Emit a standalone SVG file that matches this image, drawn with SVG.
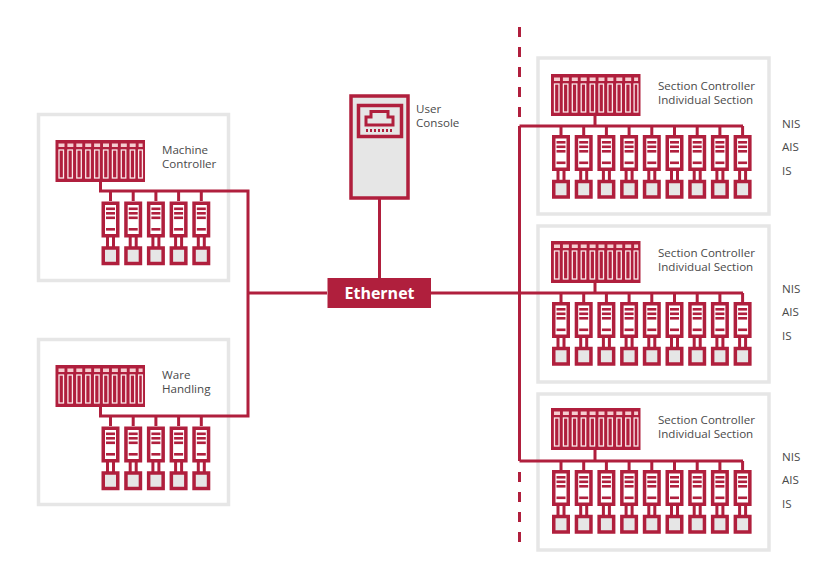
<svg xmlns="http://www.w3.org/2000/svg" width="840" height="570" viewBox="0 0 840 570">
<style>
.panel{fill:#fff;stroke:#e6e6e6;stroke-width:3.5}
.wire{fill:none;stroke:#b01f3d;stroke-width:3}
.thin{fill:none;stroke:#b01f3d;stroke-width:3}
.red{fill:#b01f3d}
.gray{fill:#e6e6e6;stroke:#b01f3d;stroke-width:3.5}
.wh{fill:#fff;stroke:#b01f3d;stroke-width:3.500}
.slot{fill:#b01f3d;stroke:#fbe9ea;stroke-width:1.3}
.dash{fill:#f6cdd0}
text{font-family:"Open Sans","Noto Sans",sans-serif;font-size:11.6px;fill:#4a4a4a}
.eth{font-family:"Open Sans","Noto Sans",sans-serif;font-size:16px;font-weight:700;fill:#fff;text-anchor:middle}
</style>
<defs>
<g id="ctrl">
<rect class="red" width="89.5" height="42"/>
<g class="dash">
<rect x="3" y="3.5" width="6" height="3.5"/><rect x="11.9" y="3.5" width="6" height="3.5"/><rect x="20.8" y="3.5" width="6" height="3.5"/><rect x="29.7" y="3.5" width="6" height="3.5"/><rect x="38.6" y="3.5" width="6" height="3.5"/><rect x="47.5" y="3.5" width="6" height="3.5"/><rect x="56.4" y="3.5" width="6" height="3.5"/><rect x="65.3" y="3.5" width="6" height="3.5"/><rect x="74.2" y="3.5" width="6" height="3.5"/><rect x="83.1" y="3.5" width="4" height="3.5"/>
</g>
<rect class="slot" x="3.5" y="10" width="4.5" height="28"/><rect class="slot" x="12.4" y="10" width="4.5" height="28"/><rect class="slot" x="21.3" y="10" width="4.5" height="28"/><rect class="slot" x="30.2" y="10" width="4.5" height="28"/><rect class="slot" x="39.1" y="10" width="4.5" height="28"/><rect class="slot" x="48" y="10" width="4.5" height="28"/><rect class="slot" x="56.9" y="10" width="4.5" height="28"/><rect class="slot" x="65.8" y="10" width="4.5" height="28"/><rect class="slot" x="74.7" y="10" width="4.5" height="28"/><rect class="slot" x="83.1" y="10" width="3.8" height="28"/>
</g>
<g id="drive">
<path class="wire" d="M6 35V47M12 35V47"/>
<rect class="wh" x="1.750" y="1.750" width="14.500" height="32.500"/>
<rect class="red" x="4.5" y="6" width="9" height="2.6"/><rect class="red" x="4.5" y="10.500" width="9" height="2.6"/><rect class="red" x="4.5" y="15" width="9" height="2.6"/><rect class="red" x="4.5" y="26.500" width="9" height="2.6"/>
<rect class="gray" x="1.750" y="46.500" width="14.500" height="15.500"/>
</g>
<g id="bank5"><use href="#drive" x="0"/><use href="#drive" x="22.7"/><use href="#drive" x="45.4"/><use href="#drive" x="68.1"/><use href="#drive" x="90.8"/></g>
<g id="bank9"><use href="#drive" x="0"/><use href="#drive" x="22.7"/><use href="#drive" x="45.4"/><use href="#drive" x="68.1"/><use href="#drive" x="90.8"/><use href="#drive" x="113.5"/><use href="#drive" x="136.2"/><use href="#drive" x="158.9"/><use href="#drive" x="181.6"/></g>
</defs>
<rect width="840" height="570" fill="#fff"/>

<g id="machine-controller">
<rect class="panel" x="38.5" y="114.5" width="190" height="166"/>
<use href="#ctrl" x="55.5" y="140"/>
<use href="#bank5" x="101.5" y="201.5"/>
<text x="162" y="154">Machine</text><text x="162" y="168">Controller</text>
</g>
<g id="ware-handling">
<rect class="panel" x="38.5" y="339.5" width="190" height="165"/>
<use href="#ctrl" x="55.5" y="365"/>
<use href="#bank5" x="101.5" y="426.5"/>
<text x="162" y="379">Ware</text><text x="162" y="393">Handling</text>
</g>
<g id="section-1">
<rect class="panel" x="538" y="58" width="231" height="156"/>
<use href="#ctrl" x="551" y="74"/>
<use href="#bank9" x="552" y="135"/>
<text x="658" y="90">Section Controller</text><text x="658" y="104">Individual Section</text>
<text x="782" y="128">NIS</text><text x="782" y="151">AIS</text><text x="782" y="175">IS</text>
</g>
<g id="section-2">
<rect class="panel" x="538" y="226" width="231" height="156"/>
<use href="#ctrl" x="551" y="241"/>
<use href="#bank9" x="552" y="302"/>
<text x="658" y="257">Section Controller</text><text x="658" y="271">Individual Section</text>
<text x="782" y="293">NIS</text><text x="782" y="316">AIS</text><text x="782" y="340">IS</text>
</g>
<g id="section-3">
<rect class="panel" x="538" y="394" width="231" height="156"/>
<use href="#ctrl" x="551" y="408"/>
<use href="#bank9" x="552" y="470"/>
<text x="658" y="424">Section Controller</text><text x="658" y="438">Individual Section</text>
<text x="782" y="461">NIS</text><text x="782" y="484">AIS</text><text x="782" y="508">IS</text>
</g>

<g id="connectors">
<path class="wire" d="M100.500 182V191H248V416H100.500V407M110.500 191V201M133.200 191V201M155.900 191V201M178.600 191V201M201.300 191V201"/>
<path class="wire" d="M110.500 416V426M133.200 416V426M155.900 416V426M178.600 416V426M201.300 416V426"/>
<path class="wire" d="M248 293H327M431 293H519M379.500 199V278"/>
<path class="wire" d="M519.500 126V461M519.500 126H743M519.500 293H743M519.500 461H743M595 116V126M595 283V293M595 450V461"/>
<path class="wire" d="M561 126V135M583.700 126V135M606.400 126V135M629.100 126V135M651.800 126V135M674.500 126V135M697.200 126V135M719.900 126V135M742.600 126V135"/>
<path class="wire" d="M561 293V302M583.700 293V302M606.400 293V302M629.100 293V302M651.800 293V302M674.500 293V302M697.200 293V302M719.900 293V302M742.600 293V302"/>
<path class="wire" d="M561 461V470M583.700 461V470M606.400 461V470M629.100 461V470M651.800 461V470M674.500 461V470M697.200 461V470M719.900 461V470M742.600 461V470"/>
<path class="wire" stroke-dasharray="10 10" d="M519.500 27V118M519.500 472V543"/>
</g>

<g id="user-console">
<rect class="gray" x="351" y="96" width="57" height="102"/>
<rect class="gray" x="358.500" y="105.500" width="43" height="31"/>
<path class="thin" d="M366 125V117H371V111.500H388V117H393V125Z"/>
<path d="M366 130.500H393" stroke="#b01f3d" stroke-width="3" stroke-dasharray="2 2" fill="none"/>
<text x="416" y="113">User</text><text x="416" y="127">Console</text>
</g>
<g id="ethernet">
<rect class="red" x="327.500" y="278" width="103.500" height="30"/>
<text class="eth" x="379.500" y="298.500">Ethernet</text>
</g>
</svg>
